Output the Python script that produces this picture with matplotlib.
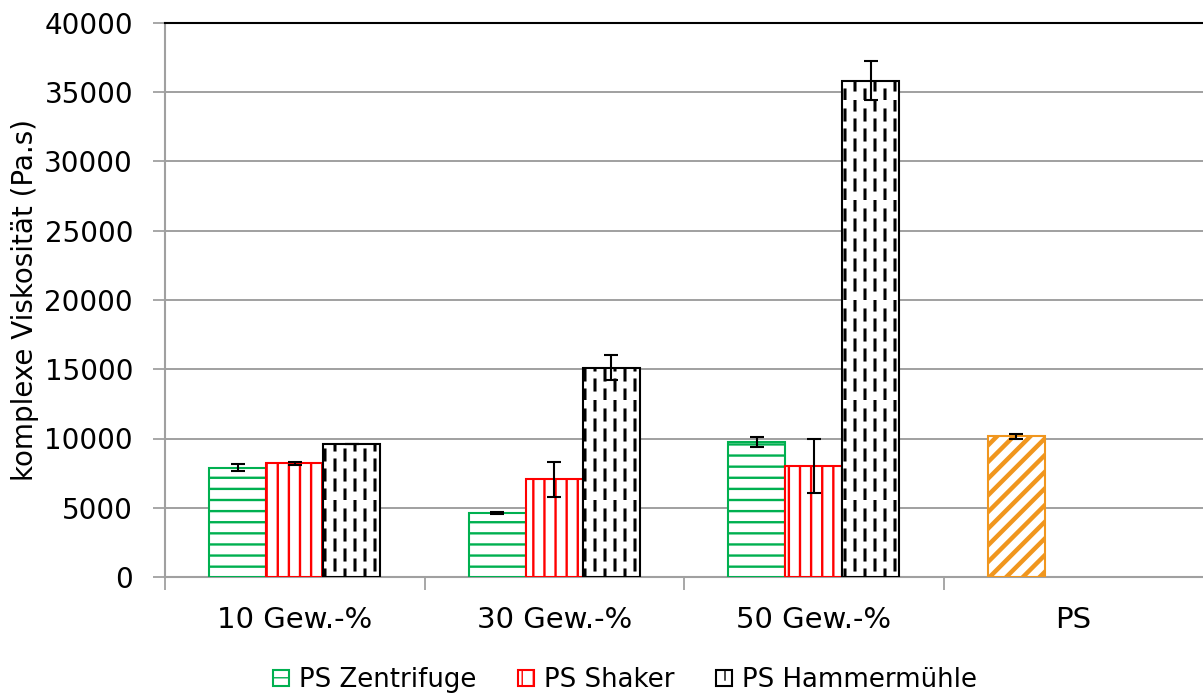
import warnings
import numpy as np
import matplotlib
matplotlib.use("Agg")
import matplotlib.pyplot as plt
import matplotlib.hatch as mhatch
from matplotlib.path import Path

warnings.filterwarnings("ignore")

# Daten
kategorien = ["10 Gew.-%", "30 Gew.-%", "50 Gew.-%", "PS"]
serien = ["PS Zentrifuge", "PS Shaker", "PS Hammermühle"]
zentrifuge = [7900, 4600, 9750]
zentrifuge_err = [250, 60, 350]
shaker = [8200, 7050, 8000]
shaker_err = [80, 1270, 1940]
hammer = [9600, 15120, 35825]
hammer_err = [0, 925, 1410]
ps_wert = [10150]
ps_err = [210]


# eigene Schraffuren: 'h' waagerecht, 'v' senkrecht, 'd' gestrichelt senkrecht, 'n' diagonal
class EigeneSchraffur(mhatch.HatchPatternBase):
    def __init__(self, hatch, density):
        segs = []
        n = 9
        if "h" in hatch:
            for i in range(n + 1):
                y = i / n
                segs.append(((0.0, y), (1.0, y)))
        if "v" in hatch:
            for i in range(n + 1):
                x = i / n
                segs.append(((x, 0.0), (x, 1.0)))
        if "d" in hatch:
            spalten = 10
            reihen = 5
            laenge = 0.1
            for i in range(spalten):
                x = (i + 0.5) / spalten
                off = 0.5 / reihen if i % 2 else 0.0
                for j in range(reihen):
                    y0 = j / reihen + off
                    y1 = y0 + laenge
                    if y1 <= 1.0:
                        segs.append(((x, y0), (x, y1)))
                    else:
                        segs.append(((x, y0), (x, 1.0)))
                        segs.append(((x, 0.0), (x, y1 - 1.0)))
        if "n" in hatch:
            m = 6
            for i in range(-m, m + 1):
                c = i / m
                segs.append(((-0.1, c - 0.1), (1.1, c + 1.1)))
        self.segs = segs
        self.num_vertices = 2 * len(segs)

    def set_vertices_and_codes(self, vertices, codes):
        for k, (a, b) in enumerate(self.segs):
            vertices[2 * k] = a
            vertices[2 * k + 1] = b
            codes[2 * k] = Path.MOVETO
            codes[2 * k + 1] = Path.LINETO


mhatch._hatch_types.append(EigeneSchraffur)

plt.rcParams["font.family"] = ["DejaVu Sans"]

fig = plt.figure(figsize=(12.03, 6.96), dpi=100)
ax = fig.add_axes([165 / 1203, 1 - 577 / 696, 1 - 165 / 1203, (577 - 23) / 696])

x = np.arange(len(kategorien))
x3 = x[:3]
b = 0.22

gruen = "#00B050"
rot = "#FF0000"
orange = "#F0961E"

def hlw(bars, w):
    for p in bars:
        if hasattr(p, "set_hatch_linewidth"):
            p.set_hatch_linewidth(w)

err_kw = dict(ecolor="black", elinewidth=1.5, capsize=5, capthick=1.5)

b1 = ax.bar(x3 - b, zentrifuge, b, yerr=zentrifuge_err, color="white", edgecolor=gruen,
            linewidth=1.5, hatch="h", label=serien[0], error_kw=err_kw, zorder=3)
b2 = ax.bar(x3, shaker, b, yerr=shaker_err, color="white", edgecolor=rot,
            linewidth=1.5, hatch="v", label=serien[1], error_kw=err_kw, zorder=3)
b3 = ax.bar(x3 + b, hammer, b, yerr=hammer_err, color="white", edgecolor="black",
            linewidth=1.5, hatch="d", label=serien[2], error_kw=err_kw, zorder=3)
b4 = ax.bar([x[3] - b], ps_wert, b, yerr=ps_err, color="white", edgecolor=orange,
            linewidth=1.5, hatch="n", error_kw=err_kw, zorder=3)
hlw(b1, 1.7)
hlw(b2, 1.7)
hlw(b3, 2.2)
hlw(b4, 3.2)

ax.set_xlim(-0.5, 3.5)
ax.set_ylim(0, 40000)
ax.set_yticks(np.arange(0, 40001, 5000))
ax.tick_params(axis="y", labelsize=20, length=9, width=1.3, color="#a0a0a0", pad=14)

ax.set_xticks([-0.5, 0.5, 1.5, 2.5])
ax.set_xticklabels([])
ax.tick_params(axis="x", which="major", length=9, width=1.3, color="#a0a0a0")
ax.set_xticks(x, minor=True)
ax.set_xticklabels(kategorien, minor=True)
ax.tick_params(axis="x", which="minor", length=0, labelsize=21, pad=21)

ax.grid(axis="y", color="#a0a0a0", linewidth=1.4, zorder=0)
ax.set_axisbelow(True)
for s in ["left", "bottom"]:
    ax.spines[s].set_color("#a0a0a0")
    ax.spines[s].set_linewidth(1.5)
ax.spines["right"].set_visible(False)
ax.spines["top"].set_color("black")
ax.spines["top"].set_linewidth(1.5)

fig.text(25 / 1203, 1 - 300 / 696, "komplexe Viskosität (Pa.s)", rotation=90,
         ha="center", va="center", fontsize=20)

fig.legend(handles=[b1, b2, b3], labels=serien, loc="center",
           bbox_to_anchor=(625 / 1203, 1 - 680 / 696), ncol=3, frameon=False,
           fontsize=18.7, handlelength=0.6, handleheight=0.6, handletextpad=0.4,
           columnspacing=1.6)

fig.savefig("out.png", dpi=100)
